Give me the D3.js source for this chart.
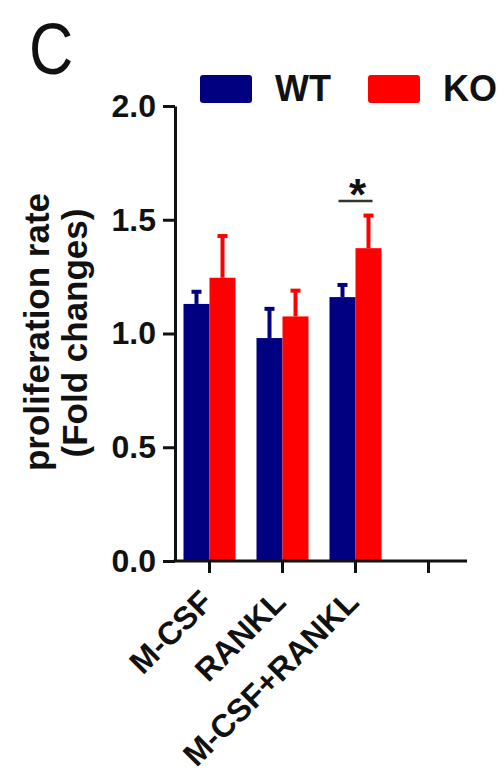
<!DOCTYPE html>
<html>
<head>
<meta charset="utf-8">
<script src="https://cdnjs.cloudflare.com/ajax/libs/d3/7.8.5/d3.min.js"></script>
<style>
  body { margin: 0; background: #fff; }
  text { font-family: "Liberation Sans", Arial, sans-serif; fill: #111; }
</style>
</head>
<body>
<div id="chart"></div>
<script>
// data
var categories = ["M-CSF", "RANKL", "M-CSF+RANKL"];
var wtMeans = [1.13, 0.98, 1.16];
var wtErrors = [0.06, 0.135, 0.06];
var koMeans = [1.245, 1.075, 1.375];
var koErrors = [0.19, 0.12, 0.15];
var yTicks = [0, 0.5, 1.0, 1.5, 2.0];
var seriesNames = ["WT", "KO"];
var seriesColors = ["#000080", "#ff0000"];

var width = 504, height = 781;

var svg = d3.select('#chart').append('svg')
    .attr('width', width)
    .attr('height', height);

// 4 slots on the x axis, the last one stays empty
var xDomain = categories.concat([" "]);

var xScale = d3.scaleBand()
    .domain(xDomain)
    .range([173, 465]);

var yScale = d3.scaleLinear()
    .domain([0, 2])
    .range([561, 106]);

var barWidth = 26;

var yAxis = d3.axisLeft(yScale)
    .tickValues(yTicks)
    .tickFormat(d3.format('.1f'))
    .tickSize(12)
    .tickSizeOuter(0)
    .tickPadding(7);

var xAxis = d3.axisBottom(xScale)
    .tickSize(12)
    .tickSizeOuter(0)
    .tickFormat('');

var series = [wtMeans, koMeans];
var errs = [wtErrors, koErrors];

// bars first, axes drawn on top
series.forEach(function(vals, s) {
    var cx = function(d, i) { return xScale(categories[i]) + xScale.bandwidth() / 2; };
    var bx = function(d, i) { return s === 0 ? cx(d, i) - barWidth : cx(d, i); };

    svg.selectAll('.bar-' + s)
        .data(vals)
        .enter()
        .append('rect')
        .attr('class', 'bar-' + s)
        .attr('x', bx)
        .attr('y', d => yScale(d))
        .attr('width', barWidth)
        .attr('height', d => yScale(0) - yScale(d))
        .attr('fill', seriesColors[s]);

    // error bars point up only
    svg.selectAll('.err-' + s)
        .data(vals)
        .enter()
        .append('line')
        .attr('class', 'err-' + s)
        .attr('x1', (d, i) => bx(d, i) + barWidth / 2)
        .attr('x2', (d, i) => bx(d, i) + barWidth / 2)
        .attr('y1', d => yScale(d))
        .attr('y2', (d, i) => yScale(d + errs[s][i]))
        .attr('stroke', seriesColors[s])
        .attr('stroke-width', 4);

    svg.selectAll('.cap-' + s)
        .data(vals)
        .enter()
        .append('line')
        .attr('class', 'cap-' + s)
        .attr('x1', (d, i) => bx(d, i) + barWidth / 2 - 5)
        .attr('x2', (d, i) => bx(d, i) + barWidth / 2 + 5)
        .attr('y1', (d, i) => yScale(d + errs[s][i]) + 1.5)
        .attr('y2', (d, i) => yScale(d + errs[s][i]) + 1.5)
        .attr('stroke', seriesColors[s])
        .attr('stroke-width', 4);
});

var yG = svg.append('g')
    .attr('class', 'y axis')
    .attr('transform', 'translate(175,0)')
    .call(yAxis);

var xG = svg.append('g')
    .attr('class', 'x axis')
    .attr('transform', 'translate(0,561)')
    .call(xAxis);

svg.selectAll('.axis path, .axis line')
    .attr('stroke', '#111')
    .attr('stroke-width', 3);

yG.selectAll('text')
    .attr('font-size', 32)
    .attr('font-weight', 'bold')
    .attr('fill', '#111')
    .attr('font-family', '"Liberation Sans", Arial, sans-serif');

// domain starts at the y axis and runs a bit past the last slot
xG.select('.domain').attr('d', 'M173.5,0H467');

// rotated category labels
svg.selectAll('.xlabel')
    .data(categories)
    .enter()
    .append('text')
    .attr('class', 'xlabel')
    .attr('text-anchor', 'end')
    .attr('font-size', 32)
    .attr('font-weight', 'bold')
    .attr('transform', d => `translate(${xScale(d) + xScale.bandwidth() / 2 + 5},604) rotate(-45)`)
    .text(d => d);

// y axis title
svg.append('text')
    .attr('transform', 'translate(49,332) rotate(-90)')
    .attr('text-anchor', 'middle')
    .attr('font-size', 35)
    .attr('font-weight', 'bold')
    .text('proliferation rate');

svg.append('text')
    .attr('transform', 'translate(87,333) rotate(-90)')
    .attr('text-anchor', 'middle')
    .attr('font-size', 35)
    .attr('font-weight', 'bold')
    .text('(Fold changes)');

// panel letter
svg.append('text')
    .attr('transform', 'translate(29,74) scale(0.85,1)')
    .attr('font-size', 72)
    .text('C');

// legend
var legendX = [200, 368];
seriesNames.forEach(function(name, i) {
    svg.append('rect')
        .attr('x', legendX[i])
        .attr('y', 75)
        .attr('width', 52)
        .attr('height', 28)
        .attr('rx', 3)
        .attr('fill', seriesColors[i]);
    svg.append('text')
        .attr('x', legendX[i] + 75)
        .attr('y', 101)
        .attr('font-size', 36)
        .attr('font-weight', 'bold')
        .text(name);
});

// significance mark over M-CSF+RANKL
var sigX = xScale(categories[2]) + xScale.bandwidth() / 2;
svg.append('line')
    .attr('x1', sigX - 17)
    .attr('x2', sigX + 17)
    .attr('y1', 201)
    .attr('y2', 201)
    .attr('stroke', '#333')
    .attr('stroke-width', 2.5);

svg.append('text')
    .attr('x', sigX + 2)
    .attr('y', 210)
    .attr('text-anchor', 'middle')
    .attr('font-size', 44)
    .attr('font-weight', 'bold')
    .text('*');
</script>
</body>
</html>
